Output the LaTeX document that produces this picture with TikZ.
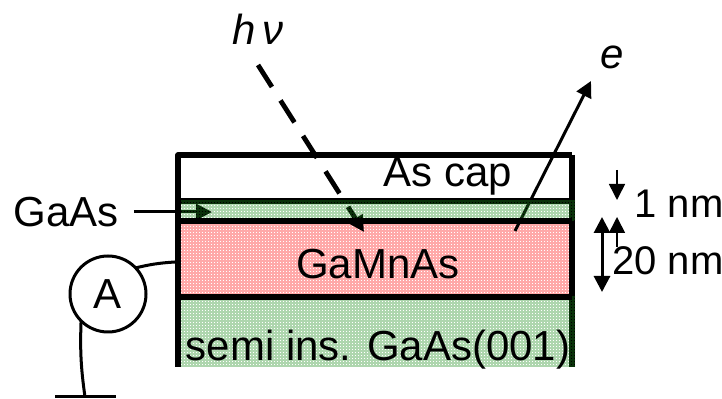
\documentclass[tikz,border=0pt]{standalone}
\usepackage{fontspec}
\setmainfont{Liberation Sans}
\usetikzlibrary{arrows.meta}
\definecolor{layergreen}{RGB}{30,140,30}
\definecolor{layerred}{RGB}{255,50,50}
\begin{document}
\begin{tikzpicture}[x = 0.5pt,y = -0.5pt,line join = round,>={Triangle[length=8pt,width=8pt]}]
	\tikzset{
		wall/.style={line width = 2.6pt},
		probe/.style={line width = 1.5pt},
		tick/.style={line width = 0.8pt},
		txt/.style={font=\fontsize{21}{24}\selectfont,inner sep=0pt},
		txtsmall/.style={font=\fontsize{20}{24}\selectfont,inner sep=0pt},
		mesh/.style={line width = 0.8pt,step = 1.5pt}
	}
	\useasboundingbox (0,0) rectangle (722,399);
	%Coordinates of the stack
	\coordinate (capTL) at (178,155);
	\coordinate (capTR) at (572,155);
	\coordinate (thinL) at (178,201);
	\coordinate (thinR) at (572,201);
	\coordinate (redL) at (178,221);
	\coordinate (redR) at (572,221);
	\coordinate (subL) at (178,297);
	\coordinate (subR) at (572,297);
	\coordinate (botL) at (178,367);
	\coordinate (botR) at (572,367);
	%Red layer lies under the arrows
	\begin{scope}[transparency group,opacity=0.42]
		\draw[mesh,layerred] (175,221) grid (572,297);
	\end{scope}
	%Texts
	\node[txt] (gaasL) at (66,212) {GaAs};
	\node[txt] (cap) at (448,176) {As cap};
	\node[txtsmall] (oneNm) at (679,204) {1 nm};
	\node[txtsmall] (twentyNm) at (668,261) {20 nm};
	\node[txt,font=\fontsize{21}{24}\selectfont\itshape] (hnu) at (258,29) {h\,ν};
	\node[txt,font=\fontsize{21}{24}\selectfont\itshape] (elec) at (612,57) {e};
	%Arrows that pass under the thin layer
	\coordinate (hnuS) at (258,65);
	\coordinate (hnuE) at (364,232);
	\coordinate (elecS) at (515,231);
	\coordinate (elecE) at (591,81);
	\coordinate (gaasE) at (212,212);
	\draw[->,line width = 2.4pt,dash pattern = on 13pt off 8pt] (hnuS)--(hnuE);
	\draw[->,probe] (elecS)--(elecE);
	\draw[->,probe] (gaasL.east)+(15,0)--(gaasE);
	\draw[wall] (thinL)--(thinR);
	\draw[wall] (capTR)--(botR);
	%Green layers
	\begin{scope}[transparency group,opacity=0.36]
		\draw[mesh,layergreen] (175,201) grid (575,221);
		\draw[mesh,layergreen] (175,297) grid (575,367);
	\end{scope}
	%Walls and interfaces
	\draw[wall] (botL)--(capTL)--(capTR);
	\draw[wall] (redL)--(redR);
	\draw[wall] (subL)--(subR);
	\node[txt] (gamnas) at (378,264) {GaMnAs};
	\node[txt] (semi) at (378,350) {semi ins. GaAs(001)};
	%Ammeter
	\node[draw,circle,probe,minimum size=38pt,txt] (amp) at (108,294) {A};
	\coordinate (ground) at (85,397);
	\coordinate (contact) at (175,262);
	\coordinate (groundL) at (55,397);
	\coordinate (groundR) at (116,397);
	\draw[probe] (amp.north east)++(-1,2) to[bend left=5] (contact);
	\draw[probe] (amp.south west)++(1,-1) to[bend right=5] (ground);
	\draw[probe] (groundL)--(groundR);
	%Thickness marks
	\coordinate (oneTop) at (617,170);
	\coordinate (oneBot) at (617,200);
	\coordinate (oneUpS) at (617,247);
	\coordinate (oneUpE) at (617,217);
	\coordinate (twTop) at (602,217);
	\coordinate (twBot) at (602,292);
	\draw[->,tick] (oneTop)--(oneBot);
	\draw[->,tick] (oneUpS)--(oneUpE);
	\draw[<->,probe] (twTop)--(twBot);
\end{tikzpicture}
\end{document}
